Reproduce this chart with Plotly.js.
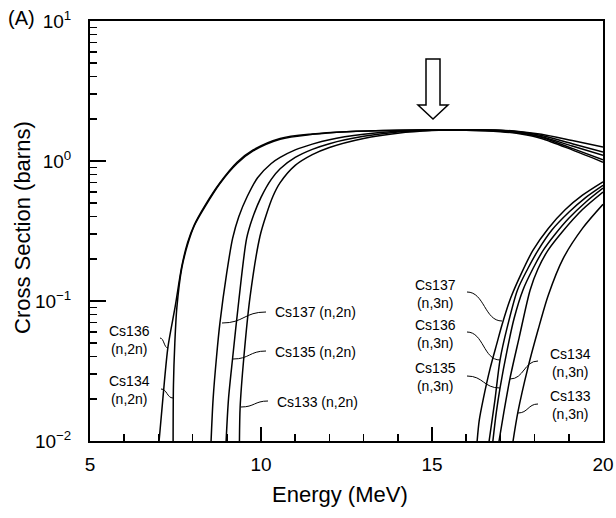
<!DOCTYPE html>
<html><head><meta charset="utf-8">
<script src="https://cdn.plot.ly/plotly-3.0.1.min.js"></script>
<style>html,body{margin:0;padding:0;background:#fff}#chart{width:616px;height:518px}</style>
</head><body><div id="chart"></div>
<script>
// ---------- data ----------
const e136_2n = [7.02, 7.13, 7.28, 7.49, 7.68, 7.85, 8.05, 8.36, 8.8, 9.3, 9.77, 10.56, 11.5, 12.5, 14, 16, 17, 17.6, 18.2, 19.1, 20];
const s136_2n = [0.01, 0.02, 0.047, 0.091, 0.175, 0.26, 0.35, 0.48, 0.70, 0.98, 1.2, 1.45, 1.56, 1.62, 1.66, 1.67, 1.65, 1.6, 1.48, 1.23, 1.02];

const e134_2n = [7.43, 7.44, 7.48, 7.54, 7.68, 7.87, 8.05, 8.36, 8.8, 9.3, 9.77, 10.56, 11.5, 12.5, 14, 16, 17, 17.6, 18.2, 19.1, 20];
const s134_2n = [0.01, 0.025, 0.05, 0.09, 0.17, 0.26, 0.345, 0.47, 0.69, 0.96, 1.18, 1.43, 1.55, 1.62, 1.66, 1.67, 1.65, 1.61, 1.52, 1.33, 1.16];

const e137_2n = [8.54, 8.6, 8.7, 8.8, 9.0, 9.17, 9.35, 9.6, 9.9, 10.3, 10.56, 11, 11.5, 12, 13, 14, 15, 16, 17, 17.6, 18.2, 19.1, 20];
const s137_2n = [0.01, 0.02, 0.04, 0.07, 0.16, 0.28, 0.4, 0.56, 0.76, 0.96, 1.06, 1.2, 1.32, 1.42, 1.55, 1.63, 1.66, 1.66, 1.62, 1.56, 1.45, 1.2, 0.98];

const e135_2n = [8.98, 9.05, 9.17, 9.35, 9.58, 9.75, 10.0, 10.3, 10.56, 11, 11.5, 12, 13, 14, 15, 16, 17, 17.6, 18.2, 19.1, 20];
const s135_2n = [0.01, 0.02, 0.039, 0.1, 0.28, 0.39, 0.55, 0.74, 0.88, 1.06, 1.21, 1.33, 1.5, 1.61, 1.66, 1.66, 1.63, 1.58, 1.49, 1.28, 1.10];

const e133_2n = [9.37, 9.39, 9.5, 9.68, 9.97, 10.15, 10.35, 10.56, 11, 11.5, 12, 13, 14, 15, 16, 17, 17.6, 18.2, 19.1, 20];
const s133_2n = [0.01, 0.0175, 0.04, 0.107, 0.29, 0.41, 0.56, 0.7, 0.93, 1.11, 1.25, 1.45, 1.58, 1.65, 1.67, 1.66, 1.62, 1.55, 1.4, 1.26];

const e137_3n = [16.32, 16.38, 16.5, 16.7, 16.9, 17.05, 17.3, 17.6, 17.95, 18.4, 18.9, 19.4, 20];
const s137_3n = [0.01, 0.014, 0.02, 0.033, 0.05, 0.068, 0.105, 0.155, 0.23, 0.33, 0.45, 0.57, 0.71];

const e136_3n = [16.67, 16.84, 16.99, 17.2, 17.5, 17.8, 18.1, 18.5, 19.0, 19.5, 20];
const s136_3n = [0.01, 0.0196, 0.038, 0.065, 0.12, 0.17, 0.23, 0.32, 0.43, 0.55, 0.67];

const e135_3n = [16.78, 16.88, 16.99, 17.2, 17.4, 17.66, 17.95, 18.25, 18.6, 19.0, 19.5, 20];
const s135_3n = [0.01, 0.016, 0.024, 0.045, 0.075, 0.12, 0.17, 0.23, 0.3, 0.39, 0.51, 0.64];

const e134_3n = [16.96, 17.1, 17.28, 17.55, 17.87, 18.1, 18.39, 18.8, 19.4, 20];
const s134_3n = [0.01, 0.016, 0.028, 0.055, 0.12, 0.17, 0.23, 0.31, 0.45, 0.60];

const e133_3n = [17.37, 17.51, 17.8, 18.1, 18.4, 18.83, 19.4, 20];
const s133_3n = [0.01, 0.016, 0.033, 0.062, 0.11, 0.2, 0.33, 0.49];

const xTickVals = [5, 10, 15, 20];
const xTickText = ['5', '10', '15', '20'];
const yTickVals = [0.01, 0.1, 1, 10];
const yTickText = ['10<sup>\u22122</sup>', '10<sup>\u22121</sup>', '10<sup>0</sup>', '10<sup>1</sup>'];

const xTitle = 'Energy (MeV)';
const yTitle = 'Cross Section (barns)';
const panelTag = '(A)';
const labelTexts = ['Cs136<br>(n,2n)', 'Cs134<br>(n,2n)', 'Cs137 (n,2n)', 'Cs135 (n,2n)', 'Cs133 (n,2n)',
  'Cs137<br>(n,3n)', 'Cs136<br>(n,3n)', 'Cs135<br>(n,3n)', 'Cs134<br>(n,3n)', 'Cs133<br>(n,3n)'];

// ---------- layout helpers ----------
const W = 616, H = 518, ML = 90, MR = 13, MT = 21, MB = 77;
function px(x) { return (x - ML) / (W - ML - MR); }
function py(y) { return (H - MB - y) / (H - MT - MB); }

const FONT = 'Liberation Sans, Arial, Helvetica, sans-serif';
const lineStyle = {color: '#000', width: 1.5, shape: 'spline', smoothing: 0.8};

const series = [
  [e136_2n, s136_2n], [e134_2n, s134_2n], [e137_2n, s137_2n], [e135_2n, s135_2n], [e133_2n, s133_2n],
  [e137_3n, s137_3n], [e136_3n, s136_3n], [e135_3n, s135_3n], [e134_3n, s134_3n], [e133_3n, s133_3n]
];
const traces = series.map(s => ({x: s[0], y: s[1], type: 'scatter', mode: 'lines', line: lineStyle, hoverinfo: 'skip'}));

const labelPos = [
  [129, 340, 'center'], [129, 390, 'center'], [273, 312, 'left'], [273, 352, 'left'], [275, 402, 'left'],
  [435, 294, 'center'], [435, 334, 'center'], [435, 377, 'center'], [570, 363, 'center'], [570, 405, 'center']
];
const annotations = labelTexts.map((t, i) => ({
  text: t, xref: 'paper', yref: 'paper', x: px(labelPos[i][0]), y: py(labelPos[i][1]),
  xanchor: labelPos[i][2], yanchor: 'middle', showarrow: false, align: 'center',
  font: {family: FONT, size: 14, color: '#000'}
}));
annotations.push({text: panelTag, xref: 'paper', yref: 'paper', x: px(6), y: py(18), xanchor: 'left', yanchor: 'middle',
  showarrow: false, font: {family: FONT, size: 20, color: '#000'}});
annotations.push({text: xTitle, xref: 'paper', yref: 'paper', x: px(340), y: py(494), xanchor: 'center', yanchor: 'middle',
  showarrow: false, font: {family: FONT, size: 22, color: '#000'}});
annotations.push({text: yTitle, xref: 'paper', yref: 'paper', x: px(22), y: py(228), xanchor: 'center', yanchor: 'middle',
  textangle: -90, showarrow: false, font: {family: FONT, size: 22, color: '#000'}});

const leaders = [
  [160, 338, 168, 348], [161, 389, 173, 398], [222, 323, 266, 312], [233, 359, 266, 351], [241, 407, 268, 401],
  [467, 292, 502, 321], [467, 332, 500, 360], [467, 376, 500, 388], [538, 361, 510, 379], [538, 404, 518, 413]
];
const shapes = leaders.map(l => {
  const mx = (l[0] + l[2]) / 2;
  return {type: 'path', xref: 'paper', yref: 'paper', line: {color: '#000', width: 1},
    path: `M ${px(l[0])},${py(l[1])} C ${px(mx)},${py(l[1])} ${px(mx)},${py(l[3])} ${px(l[2])},${py(l[3])}`};
});
const arrowPts = [[426, 59], [440, 59], [440, 105], [448, 105], [433, 119], [418, 105], [426, 105]];
shapes.push({type: 'path', xref: 'paper', yref: 'paper', fillcolor: '#fff', line: {color: '#000', width: 1.5},
  path: 'M ' + arrowPts.map(p => px(p[0]) + ',' + py(p[1])).join(' L ') + ' Z'});

const yMinor = [];
for (let k = -2; k < 1; k++) for (let m = 2; m <= 9; m++) yMinor.push(m * Math.pow(10, k));

const layout = {
  width: W, height: H,
  margin: {l: ML, r: MR, t: MT, b: MB},
  paper_bgcolor: '#fff', plot_bgcolor: '#fff',
  showlegend: false,
  font: {family: FONT, color: '#000'},
  xaxis: {
    range: [5, 20], tickmode: 'array', tickvals: xTickVals, ticktext: xTickText,
    ticks: 'inside', ticklen: 14, tickwidth: 1.5, tickcolor: '#000',
    showline: true, linewidth: 2, linecolor: '#000', mirror: true, showgrid: false, zeroline: false,
    tickfont: {family: FONT, size: 19, color: '#000'}, ticklabelstandoff: 5,
    minor: {dtick: 1, ticks: 'inside', ticklen: 7, tickwidth: 1.5, tickcolor: '#000', showgrid: false}
  },
  yaxis: {
    type: 'log', range: [-2, 1], tickmode: 'array', tickvals: yTickVals, ticktext: yTickText,
    ticks: 'inside', ticklen: 16, tickwidth: 1.5, tickcolor: '#000',
    showline: true, linewidth: 2, linecolor: '#000', mirror: true, showgrid: false, zeroline: false,
    tickfont: {family: FONT, size: 19, color: '#000'}, ticklabelstandoff: 13,
    minor: {tickmode: 'array', tickvals: yMinor, ticks: 'inside', ticklen: 7, tickwidth: 1.5, tickcolor: '#000', showgrid: false}
  },
  annotations: annotations,
  shapes: shapes
};

Plotly.newPlot('chart', traces, layout, {staticPlot: true, displayModeBar: false});
</script>
</body></html>
